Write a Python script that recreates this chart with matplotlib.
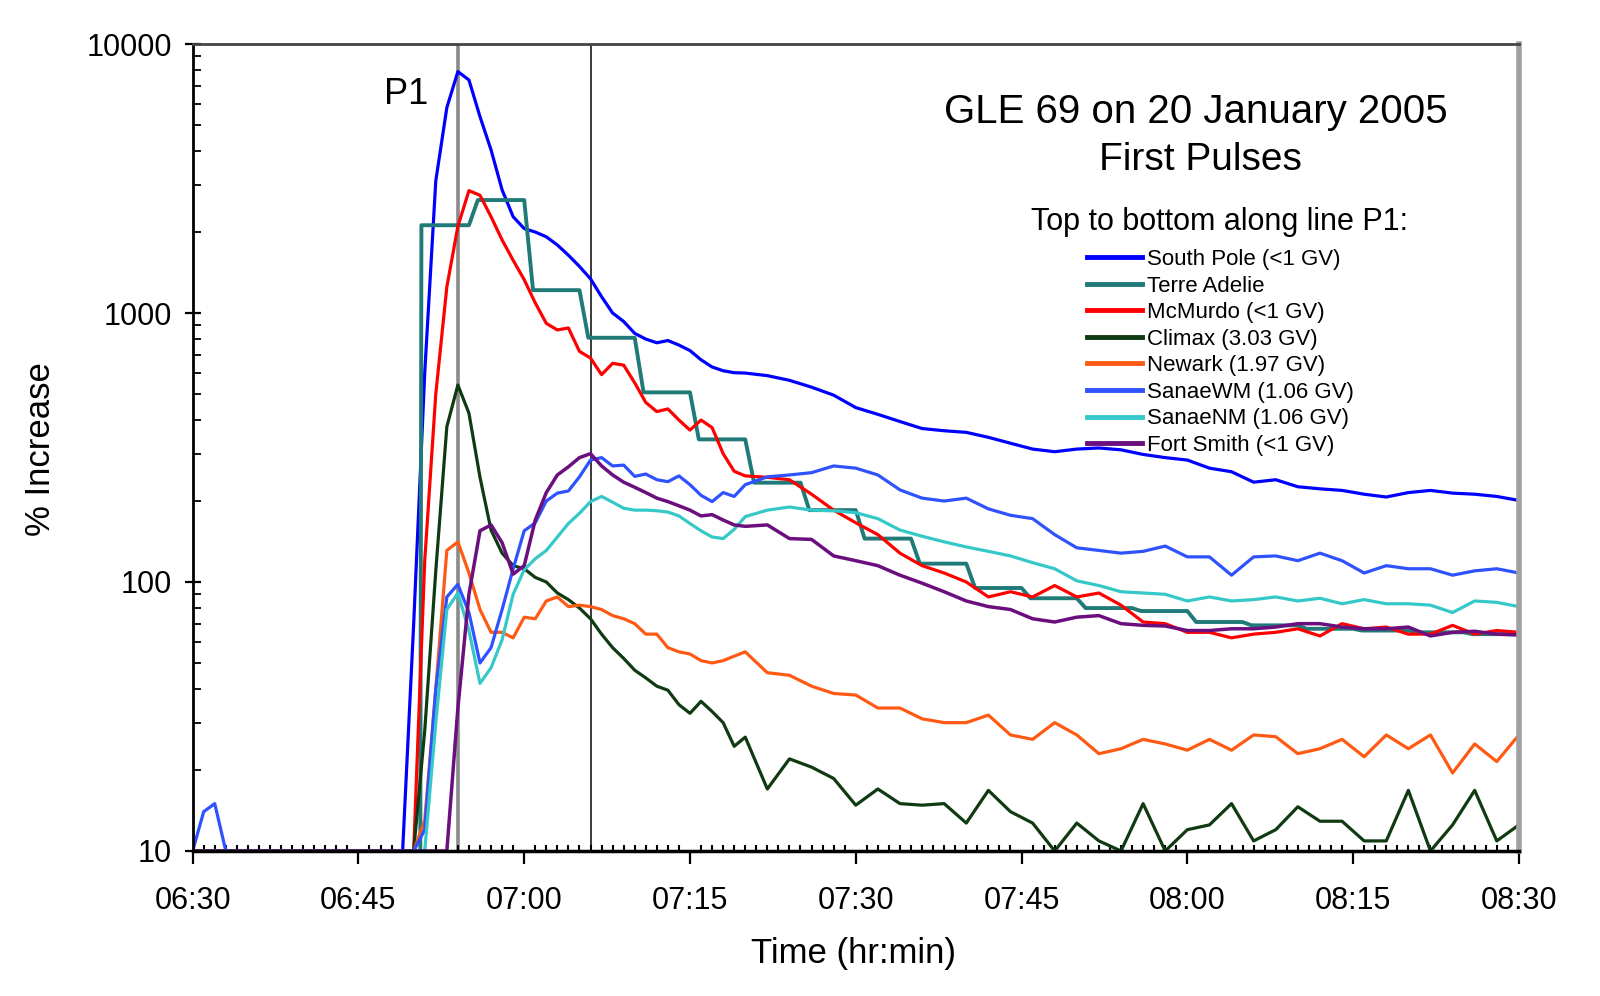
import matplotlib.pyplot as plt
from matplotlib.ticker import MultipleLocator, FuncFormatter, NullFormatter, LogLocator

plt.rcParams['font.family'] = ['Liberation Sans', 'DejaVu Sans']

# time in minutes after 06:30 UT
minutes = [0, 1, 2, 3, 4, 5, 6, 7, 8, 9, 10, 11, 12, 13, 14, 15, 16, 17, 18, 19,
           20, 21, 22, 23, 24, 25, 26, 27, 28, 29, 30, 31, 32, 33, 34, 35, 36, 37, 38, 39,
           40, 41, 42, 43, 44, 45, 46, 47, 48, 49, 50,
           52, 54, 56, 58, 60, 62, 64, 66, 68, 70, 72, 74, 76, 78, 80, 82, 84, 86, 88, 90,
           92, 94, 96, 98, 100, 102, 104, 106, 108, 110, 112, 114, 116, 118, 120]

south_pole = [10, 10, 10, 10, 10, 10, 10, 10, 10, 10, 10, 10, 10, 10, 10, 10, 10, 10, 10, 10,
              70, 600, 3100, 5800, 7900, 7350, 5370, 4040, 2870, 2280, 2060, 2000, 1920, 1790, 1640,
              1490, 1340, 1150, 1000, 930, 840, 800, 775, 790, 760, 725, 670, 630, 610, 600, 598,
              585, 562, 530, 495, 445, 420, 395, 372, 365, 360, 345, 328, 312, 305, 312, 315, 310,
              298, 290, 284, 265, 257, 235, 240, 226, 222, 219, 212, 207, 215, 219, 214, 212, 208, 201]

mcmurdo = [10, 10, 10, 10, 10, 10, 10, 10, 10, 10, 10, 10, 10, 10, 10, 10, 10, 10, 10, 10, 10,
           120, 500, 1250, 2100, 2850, 2740, 2280, 1870, 1570, 1330, 1090, 915, 865, 880, 720,
           680, 590, 650, 640, 550, 465, 430, 440, 400, 367, 400, 375, 300, 258, 248,
           245, 240, 212, 185, 166, 150, 128, 115, 108, 100, 88, 92, 88, 97, 88, 91, 82, 71, 70,
           65, 65, 62, 64, 65, 67, 63, 70, 67, 68, 64, 64, 69, 64, 66, 65]

climax = [10, 10, 10, 10, 10, 10, 10, 10, 10, 10, 10, 10, 10, 10, 10, 10, 10, 10, 10, 10, 10,
          28, 110, 378, 540, 424, 245, 156, 128, 115, 112, 104, 100, 91, 86, 80, 73, 64, 57, 52,
          47, 44, 41, 39.6, 35, 32.5, 36, 33, 30, 24.5, 26.5,
          17, 22, 20.5, 18.6, 14.8, 17, 15, 14.8, 15, 12.7, 16.8, 14, 12.7, 10, 12.7, 10.9, 10,
          15, 10, 12, 12.5, 15, 10.9, 12, 14.6, 12.9, 12.9, 10.9, 10.9, 16.8, 10, 12.5, 16.8,
          10.9, 12.5]

newark = [10, 10, 10, 10, 10, 10, 10, 10, 10, 10, 10, 10, 10, 10, 10, 10, 10, 10, 10, 10, 10,
          13, 40, 131, 141, 108, 79, 65, 65, 62, 74, 73, 85, 88, 81, 82, 81, 79, 75, 73, 70,
          64, 64, 57, 55, 54, 51, 50, 51, 53, 55,
          46, 45, 41, 38.5, 38, 34, 34, 31, 30, 30, 32, 27, 26, 30, 27, 23, 24, 26, 25, 23.7,
          26, 23.7, 27, 26.6, 23, 24, 26, 22.4, 27, 24, 27, 19.5, 25, 21.5, 27]

sanae_wm = [10, 14, 15, 10, 10, 10, 10, 10, 10, 10, 10, 10, 10, 10, 10, 10, 10, 10, 10, 10, 10,
            12, 40, 88, 98, 77, 50, 57, 79, 112, 155, 166, 200, 214, 218, 246, 284, 290, 270,
            272, 247, 252, 240, 236, 248, 230, 210, 199, 215, 208, 230,
            246, 250, 255, 270, 265, 250, 220, 205, 200, 205, 187, 177, 172, 150, 134, 131, 128,
            130, 136, 124, 124, 106, 124, 125, 120, 128, 120, 108, 115, 112, 112, 106, 110, 112, 108]

sanae_nm = [10, 10, 10, 10, 10, 10, 10, 10, 10, 10, 10, 10, 10, 10, 10, 10, 10, 10, 10, 10, 10, 10,
            30, 79, 91, 66, 42, 48, 61, 90, 111, 122, 131, 147, 165, 180, 199, 208, 198, 188,
            185, 185, 184, 182, 176, 165, 155, 147, 145, 157, 175,
            185, 190, 185, 184, 181, 172, 156, 148, 141, 135, 130, 125, 118, 112, 101, 97, 92,
            91, 90, 85, 88, 85, 86, 88, 85, 87, 83, 86, 83, 83, 82, 77, 85, 84, 81]

fort_smith = [10, 10, 10, 10, 10, 10, 10, 10, 10, 10, 10, 10, 10, 10, 10, 10, 10, 10, 10, 10,
              10, 10, 10, 10,
              34, 90, 155, 163, 140, 107, 115, 170, 215, 250, 268, 290, 300, 270, 250, 235, 225,
              215, 205, 199, 192, 185, 176, 178, 170, 163, 161,
              163, 145, 144, 125, 120, 115, 106, 99, 92, 85, 81, 79, 73, 71, 74, 75, 70, 69, 68.6,
              66, 66, 67, 67, 68, 70, 70, 68, 67, 67, 68, 63, 65, 65.6, 64, 63.5]

# Terre Adelie comes in 5-minute blocks
terre_adelie_levels = [2120, 2630, 1216, 809, 507, 339, 234, 185, 145, 117,
                       95, 87, 80, 78, 71, 69, 67, 66, 65, 64]
ta_first = 20.7

tick_labels = ['06:30', '06:45', '07:00', '07:15', '07:30', '07:45', '08:00', '08:15', '08:30']
p1_time = 24
second_time = 36

# build the step trace for Terre Adelie
ta_x = [0, ta_first - 0.1]
ta_y = [10, 10]
for k, lvl in enumerate(terre_adelie_levels):
    start = ta_first if k == 0 else 20.8 + 5 * k
    end = min(25.0 + 5 * k, 120)
    ta_x += [start, end]
    ta_y += [lvl, lvl]

fig = plt.figure(figsize=(16, 9.96), dpi=100)
ax = fig.add_axes([0.1204, 0.1456, 0.8289, 0.8102])

ax.axvline(p1_time, color='#8a8a8a', lw=2.6, zorder=1)
ax.axvline(second_time, color='#3a3a3a', lw=1.4, zorder=1)

ax.plot(minutes, south_pole, color='#0000ff', lw=2.3, label='South Pole (<1 GV)')
ax.plot(ta_x, ta_y, color='#1f7a78', lw=2.8, label='Terre Adelie')
ax.plot(minutes, mcmurdo, color='#ff0000', lw=2.3, label='McMurdo (<1 GV)')
ax.plot(minutes, climax, color='#0f3a12', lw=2.3, label='Climax (3.03 GV)')
ax.plot(minutes, newark, color='#ff5a14', lw=2.3, label='Newark (1.97 GV)')
ax.plot(minutes, sanae_wm, color='#2f52ff', lw=2.3, label='SanaeWM (1.06 GV)')
ax.plot(minutes, sanae_nm, color='#35c8c8', lw=2.3, label='SanaeNM (1.06 GV)')
ax.plot(minutes, fort_smith, color='#6b0f7f', lw=2.5, label='Fort Smith (<1 GV)')

ax.set_yscale('log')
ax.set_ylim(10, 10000)
ax.set_xlim(0, 120)

ax.set_xticks(range(0, 121, 15))
ax.set_xticklabels(tick_labels)
ax.xaxis.set_minor_locator(MultipleLocator(1))
ax.yaxis.set_major_formatter(FuncFormatter(lambda v, p: f'{v:.0f}'))
ax.yaxis.set_minor_locator(LogLocator(base=10, subs=range(2, 10)))
ax.yaxis.set_minor_formatter(NullFormatter())

ax.tick_params(axis='x', which='major', direction='out', length=9, width=1.6, pad=16, labelsize=22)
ax.tick_params(axis='x', which='minor', direction='in', length=4, width=1.5)
ax.tick_params(axis='y', which='major', direction='inout', length=12, width=1.6, pad=9, labelsize=22)
ax.tick_params(axis='y', which='minor', direction='in', length=6, width=1.3)

ax.spines['left'].set_linewidth(2)
ax.spines['bottom'].set_linewidth(2.5)
ax.spines['top'].set_color('#444444')
ax.spines['top'].set_linewidth(2)
ax.spines['right'].set_color('#a0a0a0')
ax.spines['right'].set_linewidth(4)

ax.set_xlabel('Time (hr:min)', fontsize=25)
ax.xaxis.set_label_coords(0.498, -0.1066)
ax.set_ylabel('% Increase', fontsize=25)
ax.yaxis.set_label_coords(-0.102, 0.498)

ax.text(0.161, 0.937, 'P1', transform=ax.transAxes, fontsize=26, ha='center', va='center')
ax.text(0.7565, 0.9157, 'GLE 69 on 20 January 2005', transform=ax.transAxes,
        fontsize=29, ha='center', va='center')
ax.text(0.760, 0.856, 'First Pulses', transform=ax.transAxes, fontsize=28, ha='center', va='center')
ax.text(0.774, 0.779, 'Top to bottom along line P1:', transform=ax.transAxes,
        fontsize=22, ha='center', va='center')

leg = ax.legend(loc='upper left', bbox_to_anchor=(0.674, 0.746), frameon=False, fontsize=16,
                handlelength=2.5, handletextpad=0.2, labelspacing=0.25, borderpad=0, borderaxespad=0)
for h in leg.get_lines():
    h.set_linewidth(3.5)

fig.savefig('out.png', dpi=100)
